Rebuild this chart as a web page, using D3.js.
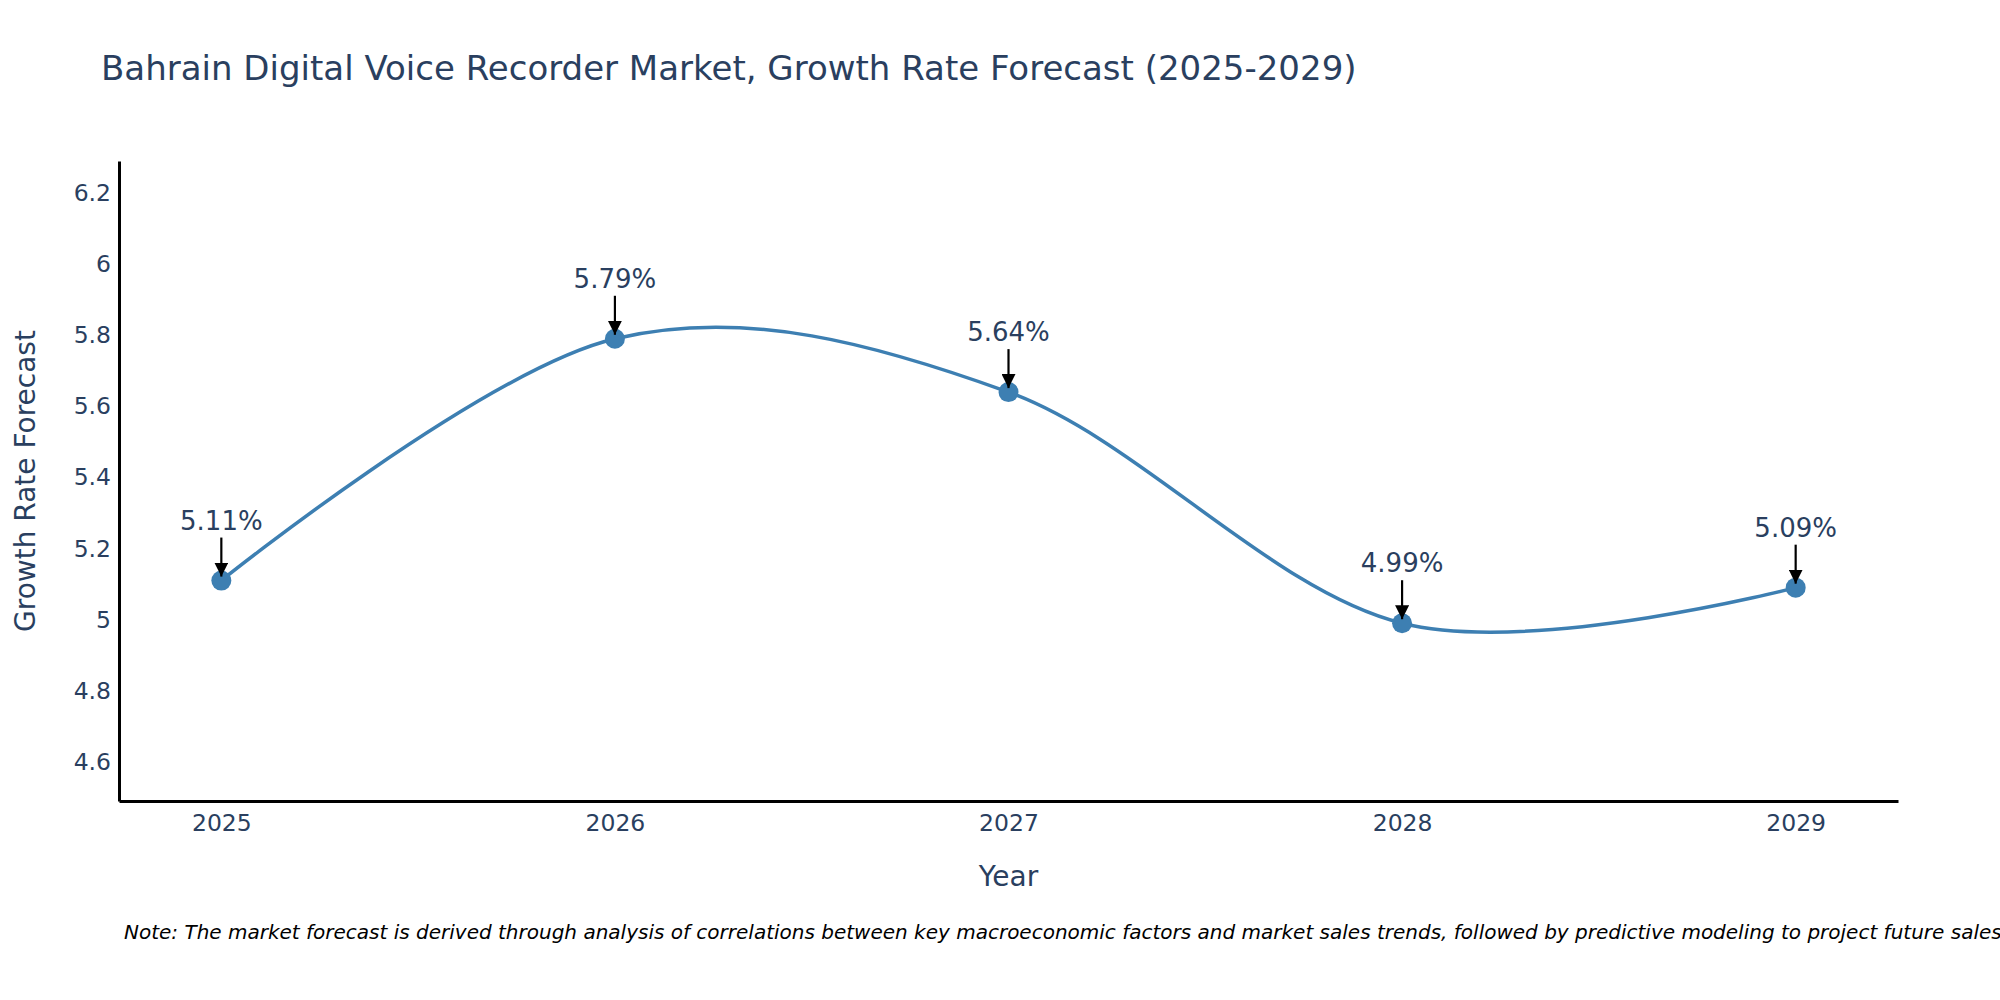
<!DOCTYPE html>
<html>
<head>
<meta charset="utf-8">
<script src="https://cdn.jsdelivr.net/npm/d3@7"></script>
<style>
  body { margin: 0; background: #fff; }
  svg { font-family: "DejaVu Sans", Verdana, sans-serif; }
</style>
</head>
<body>
<svg id="chart" width="2000" height="1000"></svg>
<script>
// values
const years = [2025, 2026, 2027, 2028, 2029];
const growth = [5.11, 5.79, 5.64, 4.99, 5.09];
const yTicks = [4.6, 4.8, 5, 5.2, 5.4, 5.6, 5.8, 6, 6.2];
const labels = ["5.11%", "5.79%", "5.64%", "4.99%", "5.09%"];

const W = 2000, H = 1000;
const margin = { left: 119, right: 102, top: 161, bottom: 199 };
const textColor = "#2a3f5f";
const lineColor = "#3d7fb2";

const svg = d3.select("#chart");

const x = d3.scaleLinear()
  .domain([2024.74, 2029.26])
  .range([margin.left, W - margin.right]);
const y = d3.scaleLinear()
  .domain([4.49, 6.29])
  .range([H - margin.bottom, margin.top]);

// title
svg.append("text")
  .attr("x", 101).attr("y", 80)
  .attr("fill", textColor)
  .style("font-size", "34px")
  .text("Bahrain Digital Voice Recorder Market, Growth Rate Forecast (2025-2029)");

// axes
const xAxis = svg.append("g")
  .attr("transform", "translate(0," + (H - margin.bottom) + ")")
  .call(d3.axisBottom(x).tickValues(years).tickFormat(d3.format("d")).tickSize(0).tickPadding(13));
const yAxis = svg.append("g")
  .attr("transform", "translate(" + margin.left + ",0)")
  .call(d3.axisLeft(y).tickValues(yTicks).tickFormat(d3.format(".1~f")).tickSize(0).tickPadding(8));

[xAxis, yAxis].forEach(function(g) {
  g.select(".domain").attr("stroke", "#000").attr("stroke-width", 3);
  g.selectAll("text").attr("fill", textColor).style("font-size", "23.5px")
    .style("font-family", "'DejaVu Sans', sans-serif");
});
xAxis.selectAll("text").attr("dy", "0.71em");

// axis titles
svg.append("text")
  .attr("x", (margin.left + W - margin.right) / 2).attr("y", 886)
  .attr("text-anchor", "middle")
  .attr("fill", textColor)
  .style("font-size", "28px")
  .text("Year");
svg.append("text")
  .attr("transform", "translate(35," + ((margin.top + H - margin.bottom) / 2) + ") rotate(-90)")
  .attr("text-anchor", "middle")
  .attr("fill", textColor)
  .style("font-size", "28px")
  .text("Growth Rate Forecast");

// line
const pts = years.map(function(yr, i) { return [yr, growth[i]]; });
const line = d3.line()
  .x(function(d) { return x(d[0]); })
  .y(function(d) { return y(d[1]); })
  .curve(d3.curveCardinal.tension(0));

svg.append("path")
  .datum(pts)
  .attr("d", line)
  .attr("fill", "none")
  .attr("stroke", lineColor)
  .attr("stroke-width", 3.5);

svg.selectAll(".dot")
  .data(pts)
  .enter()
  .append("circle")
  .attr("class", "dot")
  .attr("cx", function(d) { return x(d[0]); })
  .attr("cy", function(d) { return y(d[1]); })
  .attr("r", 10)
  .attr("fill", lineColor);

// annotations with arrows
svg.append("defs").append("marker")
  .attr("id", "arrow")
  .attr("viewBox", "0 0 10 10")
  .attr("refX", 10).attr("refY", 5)
  .attr("markerWidth", 14).attr("markerHeight", 14)
  .attr("markerUnits", "userSpaceOnUse")
  .attr("orient", "auto")
  .append("path")
  .attr("d", "M0,0 L10,5 L0,10 z")
  .attr("fill", "#000");

const ann = svg.selectAll(".ann")
  .data(pts)
  .enter()
  .append("g")
  .attr("class", "ann")
  .attr("transform", function(d) { return "translate(" + x(d[0]) + "," + y(d[1]) + ")"; });

ann.append("line")
  .attr("x1", 0).attr("y1", -43)
  .attr("x2", 0).attr("y2", -4)
  .attr("stroke", "#000")
  .attr("stroke-width", 2.2)
  .attr("marker-end", "url(#arrow)");

ann.append("text")
  .attr("x", 0).attr("y", -51)
  .attr("text-anchor", "middle")
  .attr("fill", textColor)
  .style("font-size", "26px")
  .text(function(d, i) { return labels[i]; });

// note
svg.append("text")
  .attr("x", 124).attr("y", 939)
  .attr("fill", "#000")
  .style("font-size", "20px")
  .style("font-style", "italic")
  .text("Note: The market forecast is derived through analysis of correlations between key macroeconomic factors and market sales trends, followed by predictive modeling to project future sales.");
</script>
</body>
</html>
